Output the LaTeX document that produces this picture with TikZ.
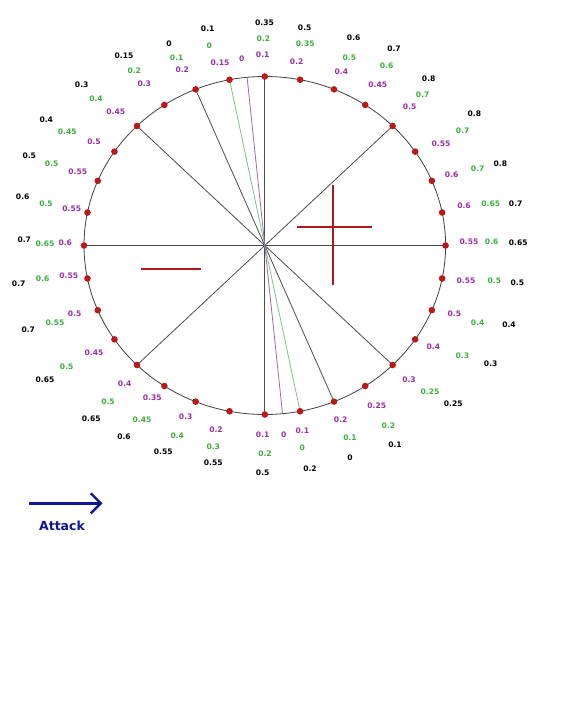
\documentclass[tikz,border=0pt]{standalone}
\usepackage{fontspec}
\setmainfont{DejaVu Sans}
\usetikzlibrary{arrows.meta}
\definecolor{dotred}{RGB}{185,25,25}
\definecolor{signred}{RGB}{175,25,25}
\definecolor{labpurple}{RGB}{155,45,165}
\definecolor{labgreen}{RGB}{60,175,60}
\definecolor{linegreen}{RGB}{120,200,120}
\definecolor{linepurple}{RGB}{160,100,185}
\definecolor{navy}{RGB}{20,20,150}
\tikzset{
  lab/.style={inner sep=0pt, font=\fontsize{7.6}{9}\selectfont\bfseries},
  plab/.style={lab, text=labpurple},
  glab/.style={lab, text=labgreen},
  blab/.style={lab, text=black},
  diam/.style={draw=black!70, line width=0.8pt},
  sign/.style={draw=signred, line width=2pt},
}
\begin{document}
\begin{tikzpicture}[x=1pt,y=-1pt]
\useasboundingbox[fill=white] (0,0) rectangle (572,706);
\def\cx{264.8}\def\cy{245.5}\def\rx{180.8}\def\ry{169}
\coordinate (c) at (\cx,\cy);
\foreach \k in {0,...,31}{
  \coordinate (d\k) at ({\cx+\rx*cos(\k*11.25)},{\cy-\ry*sin(\k*11.25)});
}
\coordinate (pu1) at ({\cx+\rx*cos(95.625)},{\cy-\ry*sin(95.625)});
\coordinate (pu2) at ({\cx+\rx*cos(275.625)},{\cy-\ry*sin(275.625)});
% diameters
\draw[diam] (d0) -- (d16);
\draw[diam] (d4) -- (d20);
\draw[diam] (d8) -- (d24);
\draw[diam] (d12) -- (d28);
\draw[diam] (d10) -- (d26);
\draw[draw=linegreen, line width=0.8pt] (d9) -- (d25);
\draw[draw=linepurple, line width=0.8pt] (pu1) -- (pu2);
% circle
\draw[draw=black!75, line width=0.8pt] (c) ellipse [x radius=\rx, y radius=\ry];
\foreach \k in {0,...,31}{
  \fill[dotred] (d\k) circle (3.3);
}
% signs
\coordinate (pv1) at (333.3,184.5);
\coordinate (pv2) at (333.3,285);
\coordinate (ph1) at (296.7,227);
\coordinate (ph2) at (371.7,227);
\draw[sign] (pv1) -- (pv2);
\draw[sign] (ph1) -- (ph2);
\coordinate (m1) at (141,269);
\coordinate (m2) at (201,269);
\draw[sign] (m1) -- (m2);
% purple labels
\foreach \n/\x/\y/\t in {
 p1/262.7/54.3/0.1, p2/241.7/58.7/0, p3/220/62.7/0.15, p4/182.3/70/0.2,
 p5/144.3/84/0.3, p6/115.7/111.7/0.45, p7/94/141.3/0.5, p8/77.7/171.3/0.55,
 p9/71.7/209/0.55, p10/65.3/243/0.6, p11/68.7/275.7/0.55, p12/74.7/313.3/0.5,
 p13/94/353/0.45, p14/124.7/383.7/0.4, p15/152.3/397.7/0.35, p16/185.7/417/0.3,
 p17/216/429.3/0.2, p18/262.7/434.3/0.1, p19/283.7/434.3/0, p20/302.3/431/0.1,
 p21/340.7/420/0.2, p22/376.7/406/0.25, p23/409/379.3/0.3, p24/433.3/347/0.4,
 p25/454.3/314/0.5, p26/466/281/0.55, p27/469/242/0.55, p28/464/205.7/0.6,
 p29/451.7/174.3/0.6, p30/441/143.3/0.55, p31/409.7/107/0.5, p32/377.7/84.3/0.45,
 p33/341.3/72/0.4, p34/296.7/61.7/0.2}{
  \node[plab] (\n) at (\x,\y) {\t};
}
% green labels
\foreach \n/\x/\y/\t in {
 g1/263.3/38.3/0.2, g2/209.3/45.7/0, g3/176.7/57.7/0.1, g4/134.3/71/0.2,
 g5/96/98.3/0.4, g6/67.3/132/0.45, g7/51.7/164/0.5, g8/46/204/0.5,
 g9/45/243.7/0.65, g10/42.7/278.7/0.6, g11/55/322.3/0.55, g12/66.7/366.3/0.5,
 g13/108/402/0.5, g14/142/419.3/0.45, g15/177.3/435.3/0.4, g16/213.3/447/0.3,
 g17/265/453.3/0.2, g18/302.3/448/0, g19/350/438/0.1, g20/388.3/426/0.2,
 g21/430/392/0.25, g22/462.3/355.3/0.3, g23/477.7/322.3/0.4, g24/494.3/281/0.5,
 g25/491.7/242/0.6, g26/490.7/203.3/0.65, g27/477.7/168.7/0.7, g28/462.7/131/0.7,
 g29/422.7/94.7/0.7, g30/386.7/65.7/0.6, g31/349.3/57.3/0.5, g32/305.3/43.7/0.35}{
  \node[glab] (\n) at (\x,\y) {\t};
}
% black labels
\foreach \n/\x/\y/\t in {
 b1/264.5/23/0.35, b2/207.7/29/0.1, b3/169/44/0, b4/124/56/0.15,
 b5/81.7/85/0.3, b6/46.3/119.3/0.4, b7/29.3/155.3/0.5, b8/22.7/197/0.6,
 b9/24.3/240/0.7, b10/18.7/284/0.7, b11/28.3/330/0.7, b12/45/380/0.65,
 b13/91.3/418.3/0.65, b14/124/436.3/0.6, b15/163.3/452/0.55, b16/213.3/462.7/0.55,
 b17/262.7/473/0.5, b18/310/469/0.2, b19/350/457.3/0, b20/395/445/0.1,
 b21/453.3/403.3/0.25, b22/490.7/364/0.3, b23/509/325/0.4, b24/517.3/283/0.5,
 b25/518.3/243/0.65, b26/515.7/204/0.7, b27/500.3/163.3/0.8, b28/474.3/113.7/0.8,
 b29/428.7/79/0.8, b30/394/49/0.7, b31/353.7/37.7/0.6, b32/304.7/27.3/0.5}{
  \node[blab] (\n) at (\x,\y) {\t};
}
% attack arrow
\coordinate (a1) at (29,503.3);
\coordinate (a2) at (102.5,503.3);
\draw[draw=navy, line width=2.4pt, -{Straight Barb[length=10pt,width=20pt,line width=2.4pt]}] (a1) -- (a2);
\node[inner sep=0pt, text=navy, font=\fontsize{12.5}{14}\selectfont\bfseries] (att) at (62,526) {Attack};
\end{tikzpicture}
\end{document}
